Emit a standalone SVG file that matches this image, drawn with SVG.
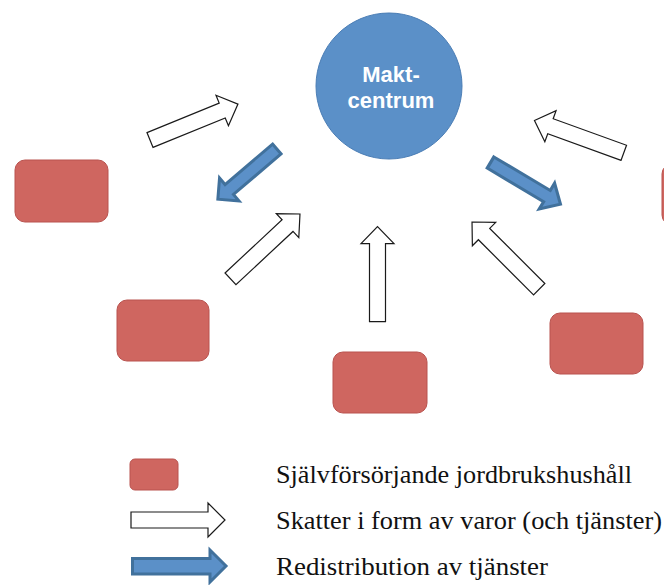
<svg xmlns="http://www.w3.org/2000/svg" xmlns:xlink="http://www.w3.org/1999/xlink" width="664" height="585" viewBox="0 0 664 585">
  <style>
    .hh { fill: #CF6660; stroke: #B9534F; stroke-width: 1; }
    .tax { fill: #FFFFFF; stroke: #1A1A1A; stroke-width: 1.2; stroke-linejoin: miter; }
    .redis { fill: #5B90C8; stroke: #41719C; stroke-width: 3; stroke-linejoin: miter; }
    .center { fill: #5B90C8; stroke: #4A7DB5; stroke-width: 1; }
    .ctext { font-family: "Liberation Sans", Arial, sans-serif; font-weight: bold; font-size: 22px; fill: #FFFFFF; text-anchor: middle; }
    .ltext { font-family: "Liberation Serif", "Times New Roman", serif; font-size: 26px; fill: #111111; }
  </style>
  <defs>
    <path id="taxArrow" d="M0,-8 L78,-8 L78,-16.5 L95,0 L78,16.5 L78,8 L0,8 Z"/>
    <path id="redisArrow" d="M1.5,-6.5 L64,-6.5 L64,-15 L79,0 L64,15 L64,6.5 L1.5,6.5 Z"/>
  </defs>
  <rect width="664" height="585" fill="#FFFFFF"/>

  <g id="maktcentrum">
    <circle class="center" cx="389" cy="86" r="73"/>
    <text class="ctext" x="391" y="82">Makt-</text>
    <text class="ctext" x="391" y="108">centrum</text>
  </g>

  <g id="hushall-1"><rect class="hh" x="15" y="160" width="93" height="62" rx="10"/></g>
  <g id="hushall-2"><rect class="hh" x="117" y="300" width="92" height="61" rx="10"/></g>
  <g id="hushall-3"><rect class="hh" x="333" y="352" width="94" height="61" rx="10"/></g>
  <g id="hushall-4"><rect class="hh" x="550" y="313" width="93" height="61" rx="10"/></g>
  <g id="hushall-5"><rect class="hh" x="662" y="164" width="93" height="61" rx="10"/></g>

  <g id="connectors">
    <use xlink:href="#taxArrow" class="tax" transform="translate(150,140) rotate(-22.2)"/>
    <use xlink:href="#redisArrow" class="redis" transform="translate(278,148) rotate(139.6)"/>
    <use xlink:href="#taxArrow" class="tax" transform="translate(230.5,278.8) rotate(-43)"/>
    <use xlink:href="#taxArrow" class="tax" transform="translate(377.5,321.7) rotate(-90)"/>
    <use xlink:href="#taxArrow" class="tax" transform="translate(539.2,289.2) rotate(-135)"/>
    <use xlink:href="#redisArrow" class="redis" transform="translate(489.2,161.7) rotate(30.8) scale(1.05,1)"/>
    <use xlink:href="#taxArrow" class="tax" transform="translate(623.8,152.8) rotate(-160.1)"/>
  </g>

  <g id="legend">
    <rect class="hh" x="130" y="459" width="48" height="31" rx="5"/>
    <path class="tax" d="M131,512 L208,512 L208,503 L225,520 L208,537 L208,528 L131,528 Z"/>
    <path class="redis" d="M132.5,558.5 L210,558.5 L210,550 L226,566 L210,582 L210,574 L132.5,574 Z"/>
    <text class="ltext" x="276" y="483" textLength="356" lengthAdjust="spacingAndGlyphs">Självförsörjande jordbrukshushåll</text>
    <text class="ltext" x="276" y="529" textLength="386" lengthAdjust="spacingAndGlyphs">Skatter i form av varor (och tjänster)</text>
    <text class="ltext" x="276" y="575" textLength="272" lengthAdjust="spacingAndGlyphs">Redistribution av tjänster</text>
  </g>
</svg>
